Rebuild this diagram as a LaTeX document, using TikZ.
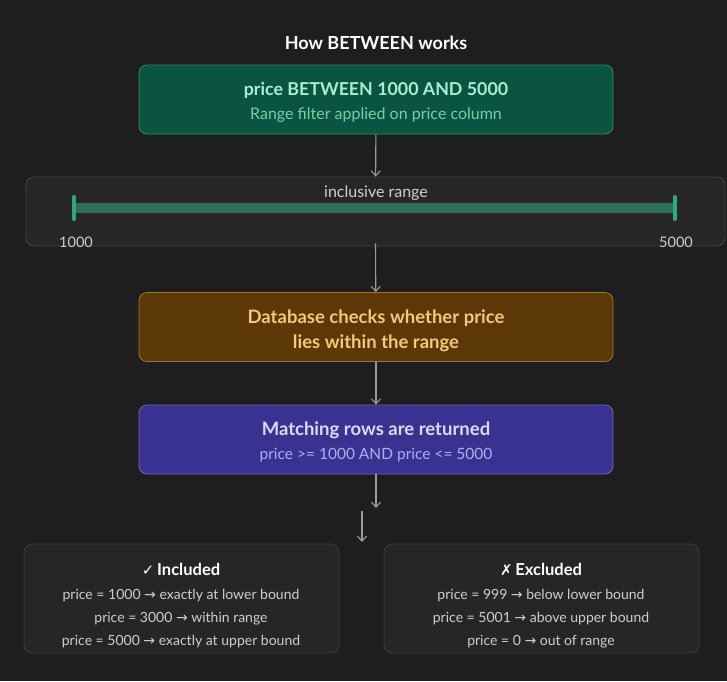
\documentclass[tikz,border=0pt]{standalone}
\usepackage{fontspec}
\setmainfont{Lato}
\newfontfamily\symfont{DejaVu Sans}
\usetikzlibrary{arrows.meta}

\definecolor{bgdark}{HTML}{1E1E1E}
\definecolor{panelfill}{HTML}{262626}
\definecolor{panelline}{HTML}{454545}
\definecolor{greenfill}{HTML}{0C5442}
\definecolor{greenline}{HTML}{2F8F6A}
\definecolor{greentext}{HTML}{A6EFCF}
\definecolor{greensub}{HTML}{72D2A5}
\definecolor{barfill}{HTML}{2F6F57}
\definecolor{barend}{HTML}{2BAA7A}
\definecolor{orangefill}{HTML}{5C3807}
\definecolor{orangeline}{HTML}{A8722A}
\definecolor{orangetext}{HTML}{F4C77C}
\definecolor{purplefill}{HTML}{3A3290}
\definecolor{purpleline}{HTML}{6B63C8}
\definecolor{purpletext}{HTML}{DCD8FF}
\definecolor{purplesub}{HTML}{B3ACF4}
\definecolor{arrowgray}{HTML}{9A9A9A}
\definecolor{softtext}{HTML}{CFCFCF}

\tikzset{
    stagebox/.style={rounded corners=8pt, line width=0.8pt, minimum width=474pt, minimum height=69pt, inner sep=0pt},
    panelbox/.style={rounded corners=8pt, line width=0.8pt, fill=panelfill, draw=panelline},
    flow/.style={-{Straight Barb[length=5pt,width=9pt]}, arrowgray, line width=1.1pt},
    ttl/.style={font=\fontsize{18.5}{22}\selectfont\bfseries},
    sub/.style={font=\fontsize{15.5}{18}\selectfont},
    small/.style={font=\fontsize{14}{16}\selectfont, text=softtext}
}

\begin{document}
\begin{tikzpicture}[x=1pt, y=-1pt]

    % background and page size
    \fill[bgdark] (0,0) rectangle (727,681);
    \useasboundingbox (0,0) rectangle (727,681);

    \node[ttl, font=\fontsize{18}{21}\selectfont\bfseries, text=white] (title) at (376,43) {How BETWEEN works};

    % green stage
    \node[stagebox, fill=greenfill, draw=greenline] (filter) at (376,99.5) {};
    \node[ttl, font=\fontsize{17.8}{21}\selectfont\bfseries, text=greentext] (filtertop) at (376,90) {price BETWEEN 1000 AND 5000};
    \node[sub, font=\fontsize{16}{19}\selectfont, text=greensub] (filtersub) at (376,115) {Range filter applied on price column};

    % range panel
    \node[panelbox, minimum width=699pt, minimum height=69pt] (range) at (375.5,211.5) {};
    \coordinate (lo) at (74,208);
    \coordinate (hi) at (675,208);
    \draw[barfill, line width=10pt] (lo) -- (hi); % the bar
    \draw[barend, line width=4pt, line cap=round] ([yshift=-11pt]lo) -- ([yshift=11pt]lo); % left end
    \draw[barend, line width=4pt, line cap=round] ([yshift=-11pt]hi) -- ([yshift=11pt]hi); % right end
    \node[small, font=\fontsize{16}{19}\selectfont] (rangelbl) at (376,193) {inclusive range};
    \node[small, font=\fontsize{14.5}{17}\selectfont] (lolbl) at (76,242) {1000};
    \node[small, font=\fontsize{14.5}{17}\selectfont] (hilbl) at (676,242) {5000};

    % orange stage
    \node[stagebox, fill=orangefill, draw=orangeline] (check) at (376,327) {};
    \node[ttl, text=orangetext, align=center] (checktext) at (376,331)
        {Database checks whether price\\[3pt]lies within the range};

    % purple stage
    \node[stagebox, fill=purplefill, draw=purpleline] (match) at (376,439.5) {};
    \node[ttl, text=purpletext] (matchtop) at (376,430) {Matching rows are returned};
    \node[sub, text=purplesub] (matchsub) at (376,455) {price >= 1000 AND price <= 5000};

    % result panels
    \node[panelbox, draw=panelline!70!panelfill, minimum width=315pt, minimum height=109pt] (inc) at (181.5,598.5) {};
    \node[panelbox, draw=panelline!70!panelfill, minimum width=315pt, minimum height=109pt] (exc) at (541.5,598.5) {};

    \node[ttl, font=\fontsize{16.5}{19}\selectfont\bfseries, text=white] (inctitle) at (181,569) {{\symfont\fontsize{15}{18}\selectfont ✓}\,Included};
    \node[small, align=center] (inclines) at (181,619)
        {price = 1000 {\symfont→} exactly at lower bound\\[7pt]price = 3000 {\symfont→} within range\\[7pt]price = 5000 {\symfont→} exactly at upper bound};

    \node[ttl, font=\fontsize{16.5}{19}\selectfont\bfseries, text=white] (exctitle) at (541,569) {{\symfont\fontsize{15}{18}\selectfont ✗}\,Excluded};
    \node[small, align=center] (exclines) at (541,619)
        {price = 999 {\symfont→} below lower bound\\[7pt]price = 5001 {\symfont→} above upper bound\\[7pt]price = 0 {\symfont→} out of range};

    % connectors
    \coordinate (split) at (376,508);
    \coordinate (dropa) at (362,511);
    \coordinate (dropb) at (362,542);
    \draw[flow] (filter) -- (range); % filter -> range
    \draw[flow] ([yshift=3pt]range.south) -- (check); % range -> check
    \draw[flow] (check) -- (match); % check -> match
    \draw[flow] (match) -- (split); % match -> results
    \draw[flow] (dropa) -- (dropb); % results drop

\end{tikzpicture}
\end{document}
